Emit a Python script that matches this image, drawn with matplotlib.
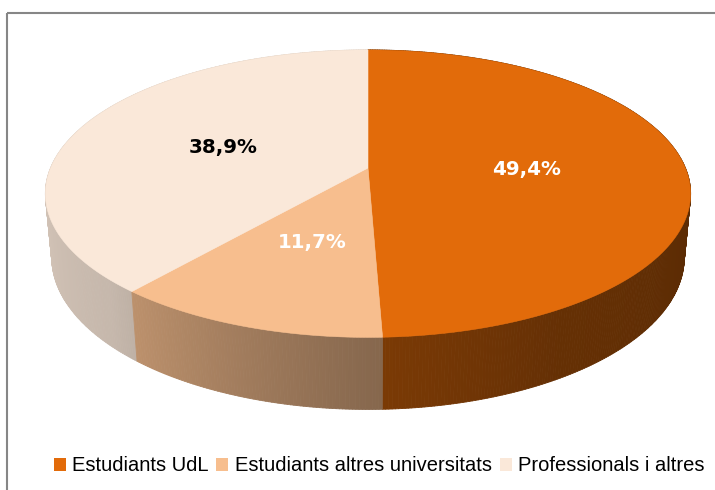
import numpy as np
import matplotlib
matplotlib.use('Agg')
import matplotlib.pyplot as plt
from matplotlib.collections import PolyCollection
from matplotlib.patches import Polygon, Rectangle, Patch
from matplotlib.colors import to_rgb

# data
labels = ['Estudiants UdL', 'Estudiants altres universitats', 'Professionals i altres']
values = [49.4, 11.7, 38.9]
pct_labels = ['49,4%', '11,7%', '38,9%']
colors = ['#E26B0A', '#F7BE8E', '#FAE8D9']
text_colors = ['white', 'white', 'black']

# 3d view of the pie (pixel space)
phi = np.radians(26)
cph, sph = np.cos(phi), np.sin(phi)
dist = 5.04
k = 1600
cx, cy = 368, 168
h = 0.224


def proj(X, Y, Z):
    depth = cph * Y + dist - sph * Z
    sy = sph * Y + cph * Z
    return cx + k * X / depth, cy - k * sy / depth


def shade(theta):
    # side lighting, theta in degrees clockwise from the back
    return np.interp(theta, [0, 90, 150, 180, 225, 270, 360],
                     [0.40, 0.39, 0.45, 0.55, 0.79, 0.86, 0.86])


fig = plt.figure(figsize=(7.15, 4.9), dpi=100)
ax = fig.add_axes([0, 0, 1, 1])
ax.set_xlim(0, 715)
ax.set_ylim(490, 0)
ax.axis('off')

fracs = np.array(values) / np.sum(values)
edges = np.concatenate([[0], np.cumsum(fracs)]) * 360

# side wall
quads, qcols, qdepth = [], [], []
for i in range(len(values)):
    a0, a1 = edges[i], edges[i + 1]
    n = max(int((a1 - a0) * 2), 4)
    t = np.linspace(a0, a1, n + 1)
    base = np.array(to_rgb(colors[i]))
    for j in range(n):
        ta, tb = np.radians(t[j]), np.radians(t[j + 1])
        xa, ya = proj(np.sin(ta), np.cos(ta), 0)
        xb, yb = proj(np.sin(tb), np.cos(tb), 0)
        xc, yc = proj(np.sin(tb), np.cos(tb), -h)
        xd, yd = proj(np.sin(ta), np.cos(ta), -h)
        quads.append([(xa, ya), (xb, yb), (xc, yc), (xd, yd)])
        tm = 0.5 * (t[j] + t[j + 1])
        qcols.append(np.clip(base * shade(tm), 0, 1))
        qdepth.append(np.cos(np.radians(tm)))
order = np.argsort(qdepth)[::-1]
pc = PolyCollection([quads[o] for o in order], facecolors=[qcols[o] for o in order],
                    edgecolors=[qcols[o] for o in order], linewidths=0.6)
ax.add_collection(pc)

# top faces
for i in range(len(values)):
    t = np.radians(np.linspace(edges[i], edges[i + 1], 200))
    xs, ys = proj(np.sin(t), np.cos(t), 0)
    x0, y0 = proj(0, 0, 0)
    pts = np.column_stack([np.r_[x0, xs], np.r_[y0, ys]])
    ax.add_patch(Polygon(pts, closed=True, facecolor=colors[i],
                         edgecolor=colors[i], linewidth=0.4))

# labels
for i in range(len(values)):
    tm = np.radians(0.5 * (edges[i] + edges[i + 1]))
    lx, ly = proj(0.5 * np.sin(tm), 0.5 * np.cos(tm), 0)
    ax.text(lx, ly + 3, pct_labels[i], ha='center', va='center', fontsize=14.3,
            fontweight='bold', color=text_colors[i], family='DejaVu Sans')

# chart frame
ax.add_patch(Rectangle((7, 13), 800, 600, fill=False, edgecolor='#868686', linewidth=1.5))

handles = [Patch(facecolor=c, edgecolor='none') for c in colors]
ax.legend(handles, labels, loc='center', bbox_to_anchor=(0.530, 0.049), ncol=3,
          frameon=False, handlelength=0.6, handleheight=0.6, handletextpad=0.3,
          columnspacing=0.4, prop={'family': 'Liberation Sans', 'size': 14.5})

fig.savefig('out.png', dpi=100)
